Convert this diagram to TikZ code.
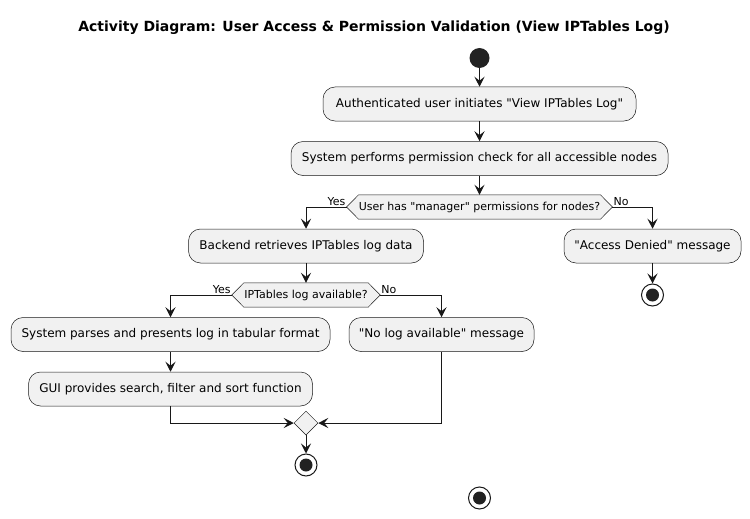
\documentclass[tikz,border=0pt]{standalone}
\usepackage{fontspec}
\setmainfont{DejaVu Sans}[Ligatures=TeXOff]
\usetikzlibrary{arrows.meta,shapes.geometric,backgrounds}
\definecolor{boxfill}{HTML}{F1F1F1}
\definecolor{ink}{HTML}{181818}
\definecolor{dot}{HTML}{222222}
\begin{document}
\begin{tikzpicture}[x=1pt,y=-1pt,
  every node/.style={font=\fontsize{12}{14}\selectfont},
  actbox/.style={draw=ink, line width=0.5pt, fill=boxfill, rounded corners=12pt,
    minimum height=34pt, inner xsep=2pt, inner ysep=0pt},
  decbox/.style={minimum height=24pt, inner xsep=0pt, inner ysep=0pt, font=\fontsize{11}{13}\selectfont},
  decshape/.style={draw=ink, line width=0.5pt, fill=boxfill},
  mergebox/.style={diamond, draw=ink, line width=0.5pt, fill=boxfill, minimum width=24pt, minimum height=24pt, inner sep=0pt},
  startdot/.style={circle, fill=dot, minimum size=20pt, inner sep=0pt},
  enddot/.style={circle, draw=ink, line width=1pt, fill=white, minimum size=22pt, inner sep=0pt,
    path picture={\fill[dot] (path picture bounding box.center) circle (6.5pt);}},
  arr/.style={draw=ink, line width=1pt, -{Stealth[length=10pt,width=10pt,inset=4pt]}},
  lbl/.style={font=\fontsize{11}{13}\selectfont, inner sep=1pt}
]
\useasboundingbox (0,0) rectangle (750,519);

\node[font=\bfseries\fontsize{14}{16}\selectfont] (title) at (374,28) {Activity Diagram: User Access \& Permission Validation (View IPTables Log)};

\node[startdot] (start) at (479.5,58) {};
\node[actbox, minimum width=313pt] (b1) at (479.5,104) {Authenticated user initiates "View IPTables Log"};
\node[actbox, minimum width=377pt] (b2) at (479.5,158.5) {System performs permission check for all accessible nodes};

\node[decbox, minimum width=241pt] (d1) at (479.5,207) {User has "manager" permissions for nodes?};
\coordinate (d1l) at ([xshift=-12pt]d1.west);
\coordinate (d1r) at ([xshift=12pt]d1.east);

\node[actbox, minimum width=235pt] (back) at (306,246) {Backend retrieves IPTables log data};
\node[actbox, minimum width=177pt] (deny) at (652.5,246) {"Access Denied" message};
\node[enddot] (end1) at (652.5,295) {};

\node[decbox, minimum width=124pt] (d2) at (306,295) {IPTables log available?};
\coordinate (d2l) at ([xshift=-12pt]d2.west);
\coordinate (d2r) at ([xshift=12pt]d2.east);

\node[actbox, minimum width=319pt] (parse) at (170.5,334.5) {System parses and presents log in tabular format};
\node[actbox, minimum width=185pt] (nolog) at (441.5,334.5) {"No log available" message};
\node[actbox, minimum width=284pt] (gui) at (170.5,389) {GUI provides search, filter and sort function};

\node[mergebox] (merge) at (306,423) {};
\node[enddot] (end2) at (306,465) {};
\node[enddot] (end3) at (479.5,498) {};

\begin{scope}[on background layer]
  \path[decshape] (d1.north west) -- (d1.north east) -- (d1r) -- (d1.south east) -- (d1.south west) -- (d1l) -- cycle;
  \path[decshape] (d2.north west) -- (d2.north east) -- (d2r) -- (d2.south east) -- (d2.south west) -- (d2l) -- cycle;
\end{scope}

\draw[arr] (start) -- (b1);
\draw[arr] (b1) -- (b2);
\draw[arr] (b2) -- (d1);
\draw[arr] (d1l) -| (back);
\draw[arr] (d1r) -| (deny);
\draw[arr] (deny) -- (end1);
\draw[arr] (back) -- (d2);
\draw[arr] (d2l) -| (parse);
\draw[arr] (d2r) -| (nolog);
\draw[arr] (parse) -- (gui);
\draw[arr] (gui) |- (merge);
\draw[arr] (nolog) |- (merge);
\draw[arr] (merge) -- (end2);

\node[lbl, anchor=south east] (y1) at (d1l) {Yes};
\node[lbl, anchor=south west] (n1) at (d1r) {No};
\node[lbl, anchor=south east] (y2) at (d2l) {Yes};
\node[lbl, anchor=south west] (n2) at (d2r) {No};
\end{tikzpicture}
\end{document}
